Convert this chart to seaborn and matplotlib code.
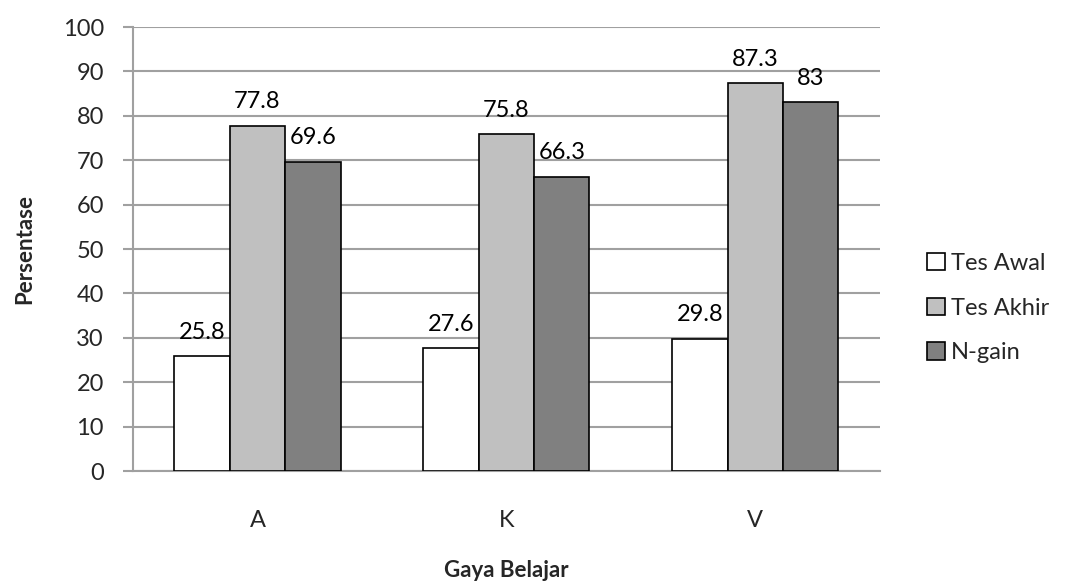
import pandas as pd
import matplotlib
matplotlib.use("Agg")
import matplotlib.pyplot as plt
import seaborn as sns

# data
categories = ["A", "K", "V"]
series_names = ["Tes Awal", "Tes Akhir", "N-gain"]
tes_awal = [25.8, 27.6, 29.8]
tes_akhir = [77.8, 75.8, 87.3]
n_gain = [69.6, 66.3, 83]
y_ticks = [0, 10, 20, 30, 40, 50, 60, 70, 80, 90, 100]

df = pd.DataFrame({
    "Gaya Belajar": categories * 3,
    "Seri": [series_names[0]] * 3 + [series_names[1]] * 3 + [series_names[2]] * 3,
    "Persentase": tes_awal + tes_akhir + n_gain,
})

sns.set_style("white")
plt.rcParams["font.family"] = ["Lato", "DejaVu Sans"]

fig = plt.figure(figsize=(10.7, 5.87), dpi=100)
ax = fig.add_axes([0.1243, 0.1976, 0.698, 0.7564])

palette = {"Tes Awal": "#FFFFFF", "Tes Akhir": "#C0C0C0", "N-gain": "#808080"}
sns.barplot(data=df, x="Gaya Belajar", y="Persentase", hue="Seri",
            order=categories, hue_order=series_names, palette=palette,
            width=0.667, edgecolor="black", linewidth=1.2, saturation=1,
            ax=ax, zorder=3)

for cont in ax.containers:
    labels = [f"{v:g}" for v in cont.datavalues]
    ax.bar_label(cont, labels=labels, padding=10, fontsize=17, color="black")

ax.set_ylim(0, 100)
ax.set_xlim(-0.5, 2.5)
ax.set_yticks(y_ticks)
ax.yaxis.grid(True, color="#A0A0A0", linewidth=1.5, zorder=0)
ax.set_axisbelow(True)
for side in ["top", "right"]:
    ax.spines[side].set_visible(False)
ax.spines["left"].set_color("#A0A0A0")
ax.spines["left"].set_linewidth(1.5)
ax.spines["bottom"].set_color("#A0A0A0")
ax.spines["bottom"].set_linewidth(1.5)
ax.tick_params(axis="y", length=7, width=1.5, color="#A0A0A0", labelsize=17, pad=14, left=True)
ax.tick_params(axis="x", length=0, labelsize=17, pad=28)

ax.set_ylabel("Persentase", fontsize=16, fontweight="bold", labelpad=20)
ax.set_xlabel("Gaya Belajar", fontsize=16, fontweight="bold")
ax.xaxis.set_label_coords(0.5, -0.2)
ax.xaxis.label.set_va("top")

ax.legend(title=None, loc="center left", bbox_to_anchor=(1.035, 0.367), frameon=False,
          fontsize=17, handlelength=0.75, handleheight=0.75, handletextpad=0.25,
          labelspacing=1.0)

plt.savefig("out.png", dpi=100)
